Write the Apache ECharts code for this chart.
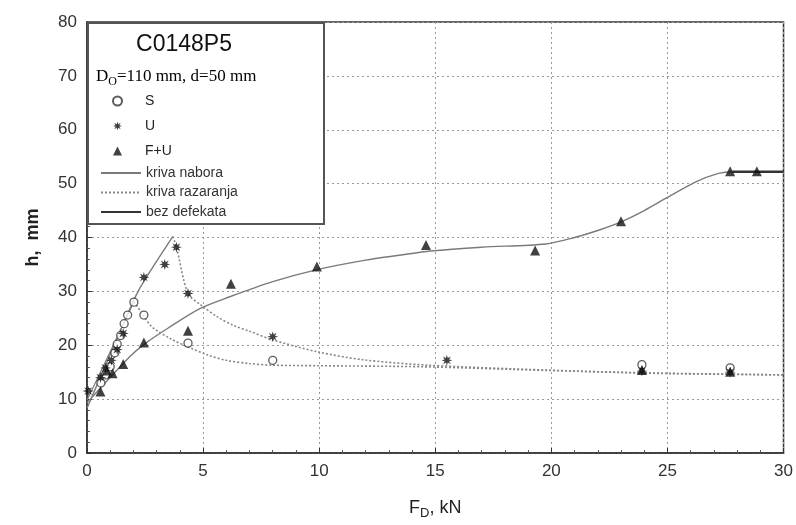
<!DOCTYPE html>
<html><head><meta charset="utf-8">
<script src="https://cdn.jsdelivr.net/npm/echarts@6/dist/echarts.min.js"></script>
<style>html,body{margin:0;padding:0;background:#fff}#c{width:796px;height:525px}</style>
</head><body><div id="c"></div>
<script>
// ---- data ----
const pointsS = [[0.6,13.0],[0.8,14.5],[1.0,16.0],[1.2,18.6],[1.3,20.2],[1.45,21.8],[1.6,24.0],[1.75,25.6],[2.02,28.0],[2.45,25.6],[4.35,20.4],[8.0,17.2],[23.9,16.4],[27.7,15.8]];
const pointsU = [[0.05,11.5],[0.58,14.0],[0.8,15.8],[1.05,17.2],[1.3,19.2],[1.56,22.2],[2.45,32.6],[3.35,35.0],[3.85,38.2],[4.35,29.6],[8.0,21.6],[15.5,17.2],[23.9,15.2],[27.7,15.0]];
const pointsFU = [[0.58,11.4],[0.85,15.3],[1.1,14.8],[1.56,16.5],[2.45,20.5],[4.35,22.7],[6.2,31.4],[9.9,34.6],[14.6,38.6],[19.3,37.6],[23.0,43.0],[27.7,52.3],[28.85,52.3],[23.9,15.4],[27.7,15.1]];
const curveNabora = [[0,9.3],[1.85,17.9],[2.5,20.3],[3.5,23.2],[4.86,26.8],[6.15,29.0],[8,31.8],[9.87,34.0],[12,35.8],[13.45,36.7],[14.8,37.5],[17,38.2],[19.75,38.8],[21,40.0],[22,41.3],[23,42.9],[24,45.0],[24.9,47.2],[26.2,50.3],[27.2,51.9],[27.8,52.2],[30,52.2]];
const steepUpper = [[0,8.3],[1.0,18.3],[2.2,30.0],[3.7,40.2]];
const steepLower = [[0,9.8],[1.0,18.8],[2.03,28.1]];
const razaranjaUpper = [[3.7,40.2],[3.85,38.3],[4.35,29.6],[4.9,27.5],[5.6,25.3],[6.3,23.7],[7,22.6],[8,21.0],[9.9,18.8],[11.9,17.3],[14.7,16.3],[19.75,15.4],[24.3,14.8],[30,14.5]];
const razaranjaLower = [[2.03,28.1],[2.42,25.6],[2.8,23.4],[3.6,21.2],[4.4,19.6],[5.2,18.2],[6,17.2],[7,16.6],[8,16.3],[10,16.2],[14.5,16.0],[20,15.3],[25,14.8],[30,14.5]];
const bezDefekata = [[27.8,52.2],[30,52.2]];
const xMin = 0, xMax = 30, xStep = 5;
const yMin = 0, yMax = 80, yStep = 10;

// asterisk symbol (8-point star)
function starPath(n, rOut, rIn){
  let d = '';
  for (let i = 0; i < 2*n; i++){
    const a = Math.PI * i / n - Math.PI/2;
    const r = i % 2 === 0 ? rOut : rIn;
    const x = (50 + r*Math.cos(a)).toFixed(2), y = (50 + r*Math.sin(a)).toFixed(2);
    d += (i === 0 ? 'M' : 'L') + x + ',' + y;
  }
  return 'path://' + d + 'Z';
}
const asterisk = starPath(8, 50, 22);

const chart = echarts.init(document.getElementById('c'));
const gray = '#7a7a7a';
const font = 'Liberation Sans, Arial, sans-serif';
chart.setOption({
  animation: false,
  backgroundColor: '#fff',
  grid: {left: 87, right: 11, top: 22, bottom: 72, show: true, borderColor: '#333', borderWidth: 1.5},
  xAxis: {
    type: 'value', min: xMin, max: xMax, interval: xStep,
    name: '{a|F}{s|D}{a|, kN}', nameLocation: 'middle', nameGap: 44,
    nameTextStyle: {rich: {a: {fontFamily: font, fontSize: 18, color: '#222'}, s: {fontFamily: font, fontSize: 13, color: '#222', verticalAlign: 'bottom', padding: [10,0,0,0]}}},
    axisLine: {lineStyle: {color: '#333', width: 1.5}},
    axisTick: {inside: true, length: 5, lineStyle: {color: '#333'}},
    minorTick: {show: true, splitNumber: 5, length: 3, lineStyle: {color: '#555'}},
    axisLabel: {fontFamily: font, fontSize: 17, color: '#333', margin: 10},
    splitLine: {show: true, lineStyle: {color: '#999', type: [2,3], width: 1}}
  },
  yAxis: {
    type: 'value', min: yMin, max: yMax, interval: yStep,
    name: 'h,  mm', nameLocation: 'middle', nameGap: 45, nameRotate: 90,
    nameTextStyle: {fontFamily: font, fontSize: 18, color: '#222', fontWeight: 'bold'},
    axisLine: {lineStyle: {color: '#333', width: 1.5}},
    axisTick: {inside: true, length: 5, lineStyle: {color: '#333'}},
    minorTick: {show: true, splitNumber: 5, length: 3, lineStyle: {color: '#555'}},
    axisLabel: {fontFamily: font, fontSize: 17, color: '#333', margin: 10},
    splitLine: {show: true, lineStyle: {color: '#999', type: [2,3], width: 1}}
  },
  graphic: [
    {type: 'rect', z: 5, shape: {x: 88, y: 23, width: 236, height: 201}, style: {fill: '#fff', stroke: '#555', lineWidth: 2}},
    {type: 'text', z: 6, x: 184, y: 45, style: {text: 'C0148P5', font: '23px Liberation Sans, Arial, sans-serif', fill: '#111', align: 'center', verticalAlign: 'middle'}},
    {type: 'text', z: 6, x: 96, y: 77, style: {
      text: '{a|D}{s|O}{a|=110 mm, d=50 mm}', verticalAlign: 'middle',
      rich: {a: {fontFamily: 'Liberation Serif, serif', fontSize: 17, color: '#222'}, s: {fontFamily: 'Liberation Serif, serif', fontSize: 12, color: '#222', padding: [10,0,0,0]}}
    }}
  ],
  legend: [
    {data: ['S','U','F+U'], orient: 'vertical', left: 107, top: 89, z: 10,
     itemWidth: 9, itemHeight: 9, itemGap: 11, selectedMode: false,
     textStyle: {fontFamily: font, fontSize: 14, color: '#222', padding: [0,0,0,18]}},
    {data: ['kriva nabora','kriva razaranja','bez defekata'], orient: 'vertical', left: 95, top: 161, z: 10,
     itemWidth: 40, itemHeight: 14, itemGap: 5.5, selectedMode: false,
     itemStyle: {color: 'transparent', borderWidth: 0, opacity: 0},
     textStyle: {fontFamily: font, fontSize: 14, color: '#333', padding: [0,0,0,0]}}
  ],
  series: [
    {name: 'kriva nabora', type: 'line', data: curveNabora, symbol: 'none', smooth: 0.3, lineStyle: {color: gray, width: 1.4}, itemStyle: {color: gray}, z: 2},
    {name: 'kriva nabora', type: 'line', data: steepUpper, symbol: 'none', smooth: 0.2, lineStyle: {color: gray, width: 1.4}, itemStyle: {color: gray}, z: 2},
    {name: 'kriva nabora', type: 'line', data: steepLower, symbol: 'none', lineStyle: {color: gray, width: 1.2}, itemStyle: {color: gray}, z: 2},
    {name: 'kriva razaranja', type: 'line', data: razaranjaUpper, symbol: 'none', smooth: 0.3, lineStyle: {color: '#888', width: 1.6, type: [2,2]}, itemStyle: {color: '#888'}, z: 2},
    {name: 'kriva razaranja', type: 'line', data: razaranjaLower, symbol: 'none', smooth: 0.3, lineStyle: {color: '#888', width: 1.6, type: [2,2]}, itemStyle: {color: '#888'}, z: 2},
    {name: 'bez defekata', type: 'line', data: bezDefekata, symbol: 'none', lineStyle: {color: '#333', width: 2.5}, itemStyle: {color: '#333'}, z: 2},
    {name: 'S', type: 'scatter', data: pointsS, symbol: 'circle', symbolSize: 8, itemStyle: {color: '#fff', borderColor: '#333', borderWidth: 1.3}, z: 4},
    {name: 'U', type: 'scatter', data: pointsU, symbol: asterisk, symbolSize: 11, itemStyle: {color: '#111'}, z: 4},
    {name: 'F+U', type: 'scatter', data: pointsFU, symbol: 'triangle', symbolSize: 10, itemStyle: {color: '#111'}, z: 4}
  ]
});
</script></body></html>
